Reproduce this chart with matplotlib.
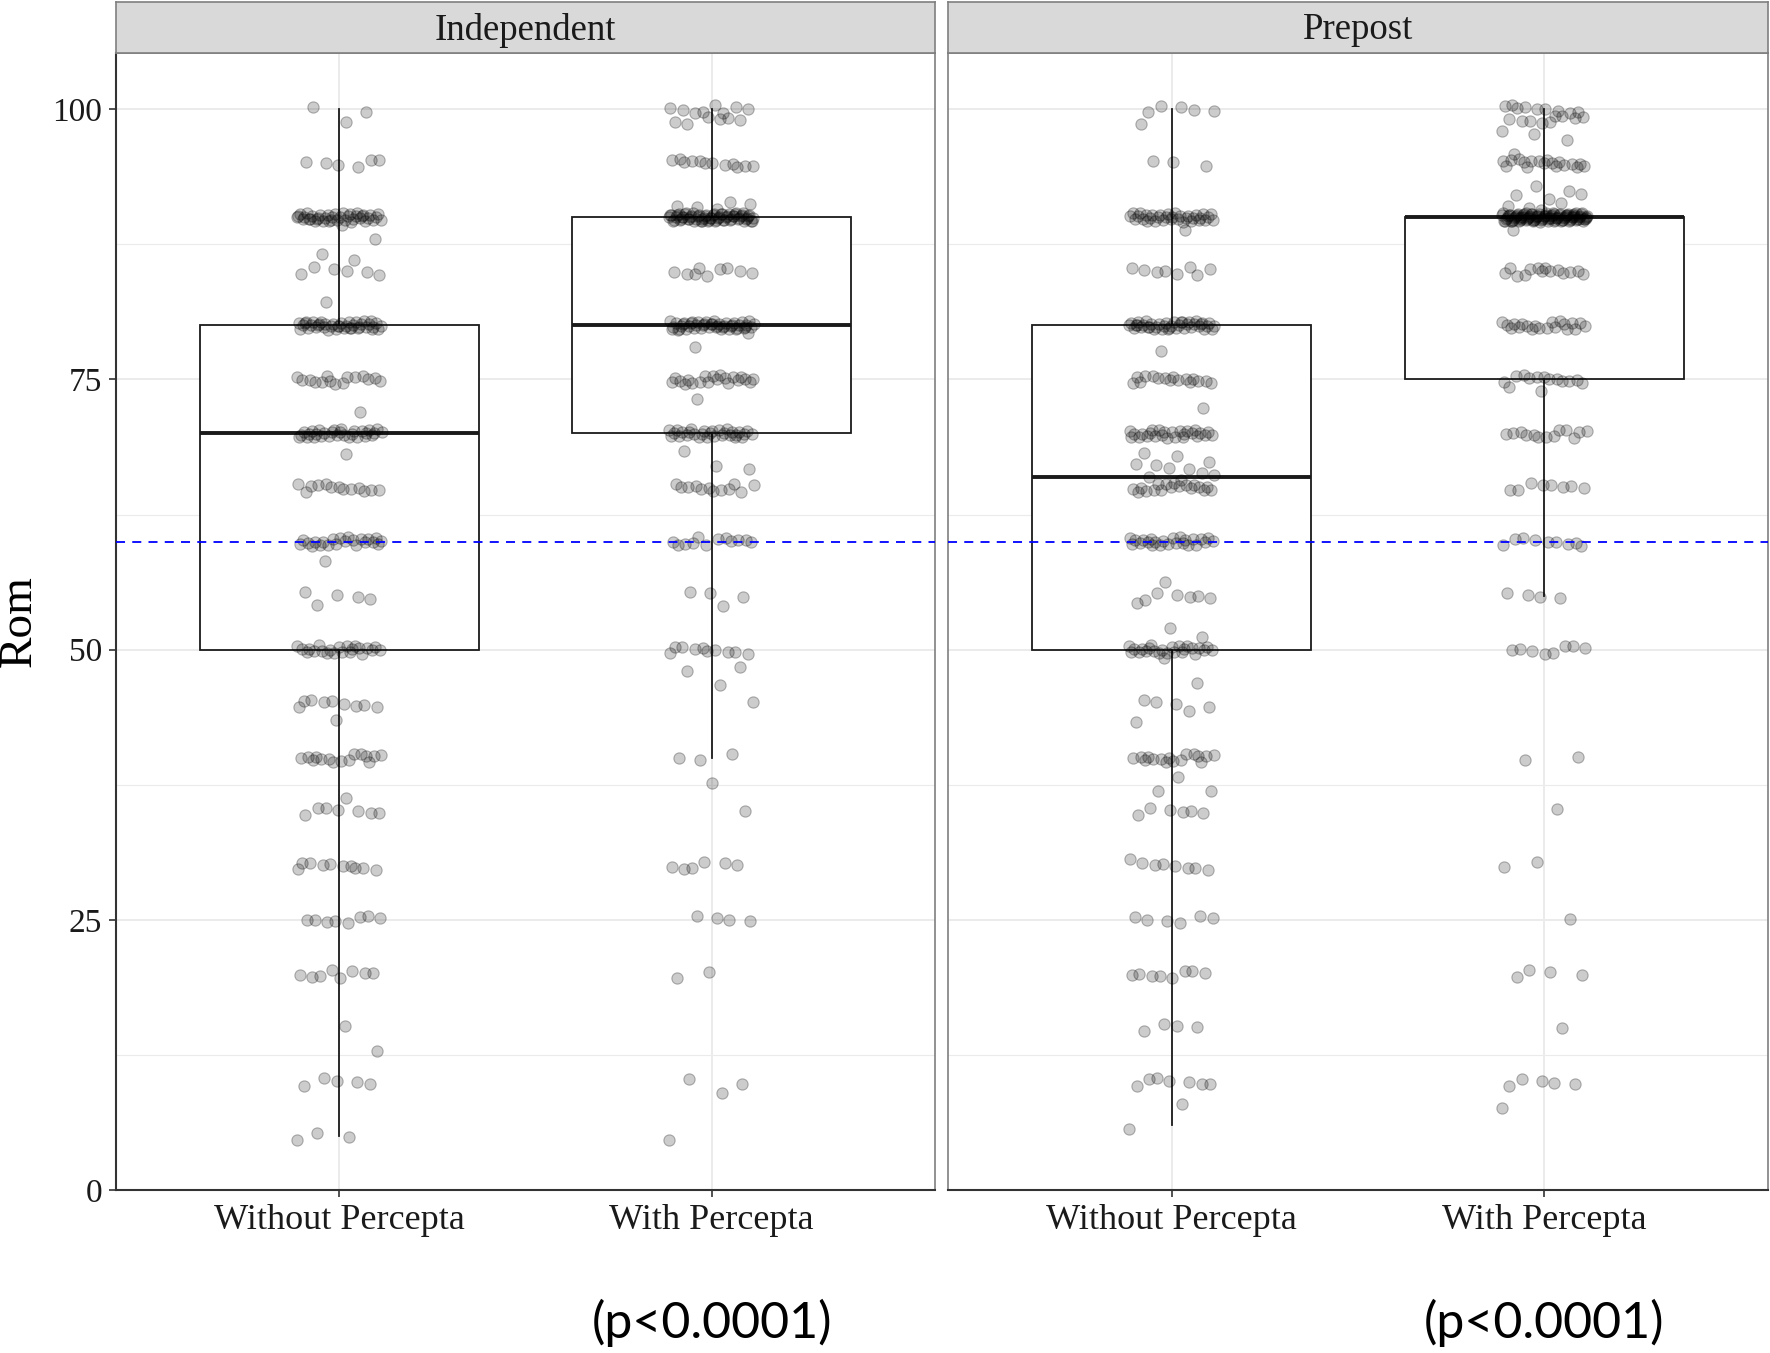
import numpy as np
import matplotlib
matplotlib.use("Agg")
import matplotlib.pyplot as plt

# ---------------- data ----------------
facets = ["Independent", "Prepost"]
categories = ["Without Percepta", "With Percepta"]

ind_without_values = [5, 10, 13, 15, 20, 25, 30, 35, 36, 40, 43.5, 45, 50, 54, 55, 58, 60, 65, 68,
                      70, 72, 75, 80, 82, 85, 86, 87, 88, 89, 90, 95, 99, 100]
ind_without_counts = [3, 5, 1, 1, 8, 8, 10, 7, 1, 15, 1, 9, 22, 1, 4, 1, 22, 13, 1,
                      30, 1, 15, 40, 1, 6, 1, 1, 1, 1, 40, 6, 1, 2]

ind_with_values = [5, 9, 10, 20, 25, 30, 35, 38, 40, 45, 47, 48, 50, 54, 55, 60, 65, 67, 68,
                   70, 73, 75, 78, 79, 80, 85, 90, 91, 95, 99, 100]
ind_with_counts = [1, 1, 2, 2, 4, 6, 1, 1, 3, 1, 1, 2, 10, 1, 3, 12, 12, 2, 1,
                   30, 1, 20, 1, 1, 45, 9, 65, 5, 12, 6, 8]

pre_without_values = [6, 8, 10, 15, 20, 25, 30, 31, 35, 36.5, 37, 38, 40, 43, 44.5, 45, 47, 49,
                      50, 51.5, 52, 54, 55, 56, 60, 65, 66, 67, 68, 70, 72, 75, 78, 80, 85, 89,
                      90, 95, 99, 100]
pre_without_counts = [1, 1, 7, 4, 8, 6, 7, 1, 6, 1, 1, 1, 16, 1, 1, 4, 1, 1,
                      24, 1, 1, 1, 6, 1, 24, 18, 4, 5, 2, 26, 1, 16, 1, 40, 8, 1,
                      34, 3, 1, 5]

pre_with_values = [8, 10, 15, 20, 25, 30, 35, 40, 50, 55, 60, 65, 70, 74, 75, 80, 85, 89,
                   90, 91, 92, 93, 95, 96, 97, 98, 99, 100]
pre_with_counts = [1, 5, 1, 4, 1, 2, 1, 2, 8, 4, 9, 8, 13, 2, 12, 20, 14, 1,
                   95, 4, 4, 1, 18, 1, 1, 2, 9, 9]

reference_line = 60
y_ticks = [0, 25, 50, 75, 100]
p_labels = ["(p<0.0001)", "(p<0.0001)"]

groups = {
    "Independent": [(ind_without_values, ind_without_counts), (ind_with_values, ind_with_counts)],
    "Prepost": [(pre_without_values, pre_without_counts), (pre_with_values, pre_with_counts)],
}

# ---------------- figure ----------------
W, H = 1770, 1353
fig = plt.figure(figsize=(W / 100, H / 100), dpi=100)
serif = "Liberation Serif"

panel_px = [(116, 935), (948, 1768)]
top_px, bot_px, strip_top_px = 53, 1190, 2
grid_col = "#EBEBEB"
border_col = "#7F7F7F"
dark = "#333333"

def jitter_seq(n, a):
    idx = np.arange(n)
    return (idx * a) % 1.0 - 0.5

for k, facet in enumerate(facets):
    x0, x1 = panel_px[k]
    ax = fig.add_axes([x0 / W, 1 - bot_px / H, (x1 - x0) / W, (bot_px - top_px) / H])
    ax.set_xlim(0.4, 2.6)
    ax.set_ylim(0, 105.2)

    # grid
    for y in [0, 25, 50, 75, 100]:
        ax.axhline(y, color=grid_col, lw=1.4, zorder=0)
    for y in [12.5, 37.5, 62.5, 87.5]:
        ax.axhline(y, color=grid_col, lw=0.8, zorder=0)
    for xv in [1, 2]:
        ax.axvline(xv, color=grid_col, lw=1.4, zorder=0)

    data = []
    for vals, cnts in groups[facet]:
        data.append(np.repeat(np.array(vals, float), cnts))

    bp = ax.boxplot(data, positions=[1, 2], widths=0.75, whis=1.5, showfliers=False,
                    showcaps=False, patch_artist=True, zorder=2,
                    boxprops=dict(facecolor="white", edgecolor="#1a1a1a", linewidth=1.3),
                    whiskerprops=dict(color="#1a1a1a", linewidth=1.3),
                    medianprops=dict(color="#1a1a1a", linewidth=2.8))

    for j, d in enumerate(data):
        n = len(d)
        xs = (j + 1) + jitter_seq(n, 0.6180339887) * 0.23
        ys = d + jitter_seq(n, 0.4142135624) * 0.8
        ax.scatter(xs, ys, s=66, facecolor=(0, 0, 0, 0.2), edgecolor=(0, 0, 0, 0.28),
                   linewidth=0.8, zorder=3)

    ax.axhline(reference_line, color="#0000FF", lw=1.3, ls=(0, (5, 4)), zorder=4)

    ax.set_xticks([1, 2])
    ax.set_xticklabels(categories, fontfamily=serif, fontsize=26, color="#1a1a1a")
    ax.set_yticks(y_ticks)
    if k == 0:
        ax.set_yticklabels([str(t) for t in y_ticks], fontfamily=serif, fontsize=24,
                           color="#1a1a1a")
        ax.set_ylabel("Rom", fontfamily=serif, fontsize=34, labelpad=8)
    else:
        ax.set_yticklabels([])
        ax.tick_params(axis="y", length=0)
    ax.tick_params(axis="both", direction="out", length=5, width=1.2, color=dark, pad=5)
    if k == 1:
        ax.tick_params(axis="y", length=0)

    for side in ["top", "right"]:
        ax.spines[side].set_color(border_col)
        ax.spines[side].set_linewidth(1.2)
    ax.spines["bottom"].set_color(dark)
    ax.spines["bottom"].set_linewidth(1.5)
    if k == 0:
        ax.spines["left"].set_color(dark)
        ax.spines["left"].set_linewidth(1.5)
    else:
        ax.spines["left"].set_color(border_col)
        ax.spines["left"].set_linewidth(1.2)

    # strip
    sax = fig.add_axes([x0 / W, 1 - top_px / H, (x1 - x0) / W, (top_px - strip_top_px) / H])
    sax.set_facecolor("#D9D9D9")
    sax.set_xticks([])
    sax.set_yticks([])
    for s in sax.spines.values():
        s.set_color(border_col)
        s.set_linewidth(1.2)
    sax.text(0.5, 0.45, facet, ha="center", va="center", fontfamily=serif, fontsize=26.5,
             color="#1a1a1a", transform=sax.transAxes)

    # p-value annotation under the "With Percepta" group
    xc = x0 + (x1 - x0) * (2 - 0.4) / 2.2
    fig.text(xc / W, 1 - 1323 / H, p_labels[k], ha="center", va="center",
             fontfamily="Lato", fontsize=36, color="black")

fig.savefig("out.png", dpi=100)
